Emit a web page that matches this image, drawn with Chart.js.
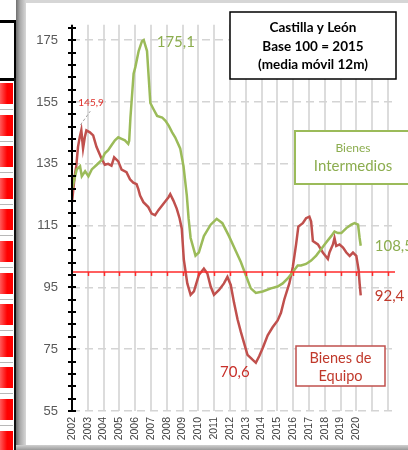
<!DOCTYPE html>
<html>
<head>
<meta charset="utf-8">
<script src="https://cdn.jsdelivr.net/npm/chart.js@4.4.1/dist/chart.umd.min.js"></script>
<style>
  html, body { margin: 0; padding: 0; background: #fff; }
  body { width: 408px; height: 450px; position: relative; overflow: hidden; }
  .abs { position: absolute; }
  #marco { left: 26px; top: 3px; width: 382px; height: 442px; }
</style>
</head>
<body>
<!-- trozo de hoja de cálculo a la izquierda -->
<div class="abs" style="left:-3px;top:20px;width:14px;height:55px;border:3px solid #000;"></div>
<div class="abs" style="left:14px;top:78px;width:2px;height:372px;background:#111;"></div>
<div id="celdas"></div>
<div class="abs" style="left:16px;top:0;width:10px;height:450px;background:linear-gradient(to right,#6f6f6f,#a9a9a9 40%,#d8d8d8);"></div>
<div class="abs" style="left:26px;top:0;width:382px;height:3px;background:#d6d6d6;"></div>
<div class="abs" style="left:16px;top:445px;width:392px;height:5px;background:linear-gradient(#d0d0d0,#9a9a9a);"></div>
<div id="marco" class="abs"><canvas id="grafico" width="382" height="442"></canvas></div>

<script>
// celdas rojas de la hoja (decoración)
var celdas = document.getElementById('celdas');
var html = '';
for (var i = 0; i < 12; i++) {
  var yCelda = 83 + i * 31.6;
  html += '<div class="abs" style="left:0;top:' + yCelda + 'px;width:13px;height:21px;background:linear-gradient(to right,#ff5a5a,#ff0000 55%);"></div>' +
    '<div class="abs" style="left:0;top:' + (yCelda + 26) + 'px;width:13px;height:1px;background:#b8b8b8;"></div>';
}
celdas.innerHTML = html;

// Bienes de Equipo (media móvil 12m, base 2015 = 100)
var equipoFecha = [2002.0, 2002.17, 2002.27, 2002.38, 2002.49, 2002.59, 2002.70, 2002.81, 2002.91, 2003.13,
  2003.34, 2003.55, 2003.86, 2004.08, 2004.29, 2004.50, 2004.67, 2004.93, 2005.14, 2005.45,
  2005.67, 2005.88, 2006.09, 2006.20, 2006.31, 2006.52, 2006.83, 2007.04, 2007.26, 2007.47,
  2007.79, 2008.11, 2008.22, 2008.42, 2008.63, 2008.81, 2008.95, 2009.08, 2009.30, 2009.51,
  2009.72, 2010.03, 2010.35, 2010.57, 2010.78, 2010.99, 2011.31, 2011.62, 2011.84, 2012.05,
  2012.26, 2012.48, 2012.69, 2012.90, 2013.11, 2013.43, 2013.64, 2013.85, 2014.07, 2014.39,
  2014.70, 2015.02, 2015.23, 2015.44, 2015.76, 2015.98, 2016.19, 2016.33, 2016.61, 2016.82,
  2017.03, 2017.14, 2017.25, 2017.57, 2017.88, 2018.20, 2018.30, 2018.52, 2018.62, 2018.73,
  2018.94, 2019.16, 2019.37, 2019.58, 2019.79, 2020.0, 2020.15, 2020.21, 2020.28];
var equipoValor = [122.6, 131, 134.2, 140.5, 143.6, 145.9, 140, 143.6, 145.8, 145.2,
  144.2, 140.5, 136.8, 134.7, 135.0, 134.4, 137.1, 135.8, 133.1, 132.3,
  130.0, 128.9, 128.4, 126.8, 124.7, 122.6, 121.0, 118.9, 118.4, 120.0,
  122.1, 124.2, 125.2, 123.1, 120.5, 117.4, 114, 104, 96.3, 92.6,
  93.7, 99, 101.1, 99.5, 95.3, 92.6, 94.2, 96.3, 98.4, 95.8,
  90, 84.7, 80.6, 76.9, 73.2, 71.6, 70.6, 72.7, 75.3, 79.5,
  82.1, 84.3, 86.8, 91.1, 96.3, 101.6, 109, 114.7, 115.8, 117.4,
  117.9, 116.3, 110, 108.9, 106.3, 104.2, 106.3, 108.9, 111, 108.4,
  108.9, 107.9, 106.3, 105.2, 106.3, 105.2, 100.5, 96.3, 92.4];

// Bienes Intermedios
var intermFecha = [2002.0, 2002.30, 2002.51, 2002.62, 2002.83, 2003.04, 2003.25, 2003.57, 2003.89, 2004.08,
  2004.29, 2004.50, 2004.72, 2004.93, 2005.14, 2005.35, 2005.56, 2005.62, 2005.70, 2005.90,
  2006.01, 2006.22, 2006.43, 2006.54, 2006.75, 2006.96, 2007.17, 2007.39, 2007.71, 2007.92,
  2008.13, 2008.34, 2008.53, 2008.85, 2009.06, 2009.27, 2009.38, 2009.51, 2009.82, 2010.03,
  2010.35, 2010.78, 2011.16, 2011.52, 2011.94, 2012.37, 2012.69, 2013.0, 2013.32, 2013.64,
  2014.07, 2014.6, 2015.02, 2015.34, 2015.66, 2015.98, 2016.29, 2016.5, 2016.82, 2017.14,
  2017.46, 2017.78, 2018.09, 2018.41, 2018.62, 2018.84, 2019.05, 2019.37, 2019.68, 2019.89,
  2020.11, 2020.21, 2020.28];
var intermValor = [126.8, 133.2, 134.2, 131, 132.6, 131, 133.2, 134.7, 136.3, 138.4,
  139.4, 141, 142.6, 143.6, 143.1, 142.6, 141.5, 142.5, 150, 164.2,
  166.3, 171.5, 174.7, 175.1, 171.5, 154.7, 152.6, 150.5, 150, 148.9,
  147.3, 145.2, 143.6, 140, 134.2, 124.7, 117.4, 111, 105.3, 106.3,
  111.6, 115.3, 117.2, 115.8, 111.6, 106.8, 103.2, 99, 94.7, 93.2,
  93.7, 94.7, 95.3, 96.3, 97.9, 100, 102.1, 102.1, 102.6, 103.7,
  105.3, 107.4, 109.5, 111.6, 113.1, 112.6, 112.6, 114.2, 115.3, 115.8,
  115.3, 111, 108.5];

// ejes
var anios = [2002, 2003, 2004, 2005, 2006, 2007, 2008, 2009, 2010, 2011, 2012,
  2013, 2014, 2015, 2016, 2017, 2018, 2019, 2020, 2021, 2022];
var ultimoAnioEtiqueta = 2020;
var xMin = 2002, xMax = 2022.45;
var yMin = 55, yMax = 180, yPaso = 4, yPasoEtiqueta = 20;
var base = 100;

function puntos(f, v) { return f.map(function (d, i) { return { x: d, y: v[i] }; }); }
function coma(v) { return v.toFixed(1).replace('.', ','); }

var verde = '#9bbb59', rojo = '#c0504d';

var decor = {
  id: 'decor',
  afterDraw: function (chart) {
    var ctx = chart.ctx, a = chart.chartArea, x = chart.scales.x, y = chart.scales.y;
    ctx.save();
    // eje vertical con marcas que lo cruzan
    ctx.strokeStyle = '#000';
    ctx.lineWidth = 2;
    ctx.beginPath(); ctx.moveTo(a.left, a.top); ctx.lineTo(a.left, a.bottom); ctx.stroke();
    y.ticks.forEach(function (t) {
      var py = Math.round(y.getPixelForValue(t.value));
      ctx.beginPath(); ctx.moveTo(a.left - 4, py); ctx.lineTo(a.left + 4, py); ctx.stroke();
    });
    // marcas bajo la línea de 100
    var p100 = y.getPixelForValue(base);
    ctx.strokeStyle = '#ff2a2a';
    ctx.lineWidth = 1.5;
    x.ticks.forEach(function (t) {
      if (t.value === xMin) return;
      var px = Math.round(x.getPixelForValue(t.value)) + 0.5;
      ctx.beginPath(); ctx.moveTo(px, p100); ctx.lineTo(px, p100 + 4); ctx.stroke();
    });

    function texto(s, px, py, font, color, align) {
      ctx.font = font; ctx.fillStyle = color; ctx.textAlign = align || 'left'; ctx.textBaseline = 'middle';
      ctx.fillText(s, px, py);
    }

    // máximo de Bienes de Equipo al inicio
    var iMaxE = equipoValor.indexOf(Math.max.apply(null, equipoValor.slice(0, 20)));
    var ex = x.getPixelForValue(equipoFecha[iMaxE]), ey = y.getPixelForValue(equipoValor[iMaxE]);
    ctx.strokeStyle = '#a6a6a6'; ctx.lineWidth = 1; ctx.setLineDash([3, 2]);
    ctx.beginPath(); ctx.moveTo(ex - 1, ey - 5); ctx.lineTo(ex + 9, ey - 19); ctx.stroke();
    ctx.setLineDash([]);
    texto(coma(equipoValor[iMaxE]), ex - 3, ey - 27, '10px Lato', '#e0302a');

    // máximo de Bienes Intermedios
    var iMaxI = intermValor.indexOf(Math.max.apply(null, intermValor));
    texto(coma(intermValor[iMaxI]), x.getPixelForValue(intermFecha[iMaxI]) + 13,
      y.getPixelForValue(intermValor[iMaxI]) + 2, '15px Lato', '#8cad4f');

    // mínimo de Bienes de Equipo
    var iMinE = equipoValor.indexOf(Math.min.apply(null, equipoValor));
    texto(coma(equipoValor[iMinE]), x.getPixelForValue(equipoFecha[iMinE]) - 21,
      y.getPixelForValue(equipoValor[iMinE]) + 9, '15px Lato', '#c8302a', 'center');

    // últimos valores
    var nI = intermValor.length - 1, nE = equipoValor.length - 1;
    texto(coma(intermValor[nI]), x.getPixelForValue(intermFecha[nI]) + 14,
      y.getPixelForValue(intermValor[nI]), '15px Lato', '#8cad4f');
    texto(coma(equipoValor[nE]), x.getPixelForValue(equipoFecha[nE]) + 14,
      y.getPixelForValue(equipoValor[nE]) + 1, '15px Lato', '#c0392b');

    // recuadro del título
    ctx.fillStyle = '#fff'; ctx.fillRect(204, 9, 166, 67);
    ctx.strokeStyle = '#000'; ctx.lineWidth = 1.5; ctx.strokeRect(204, 9, 166, 67);
    texto('Castilla y León', 287, 25, 'bold 13.5px Lato', '#000', 'center');
    texto('Base 100 = 2015', 287, 44, 'bold 13.5px Lato', '#000', 'center');
    texto('(media móvil 12m)', 287, 62, 'bold 13.5px Lato', '#000', 'center');

    // recuadro Bienes Intermedios
    ctx.fillStyle = '#fff'; ctx.fillRect(269, 128, 125, 53);
    ctx.strokeStyle = verde; ctx.lineWidth = 2; ctx.strokeRect(269, 128, 125, 53);
    texto('Bienes', 327, 145, '12px Lato', '#8cad4f', 'center');
    texto('Intermedios', 327, 163.5, '15px Lato', '#8cad4f', 'center');

    // recuadro Bienes de Equipo
    ctx.fillStyle = '#fff'; ctx.fillRect(270, 343, 89, 40);
    ctx.strokeStyle = rojo; ctx.lineWidth = 1.5; ctx.strokeRect(270, 343, 89, 40);
    texto('Bienes de', 314.5, 355, '14.5px Lato', '#c0392b', 'center');
    texto('Equipo', 314.5, 373, '14.5px Lato', '#c0392b', 'center');
    ctx.restore();
  }
};

new Chart(document.getElementById('grafico'), {
  type: 'line',
  data: {
    datasets: [
      {
        label: 'Base 100',
        data: [{ x: xMin, y: base }, { x: xMax, y: base }],
        borderColor: '#ff2a2a',
        borderWidth: 1.5,
        pointRadius: 0
      },
      {
        label: 'Bienes Intermedios',
        data: puntos(intermFecha, intermValor),
        borderColor: verde,
        borderWidth: 2.5,
        pointRadius: 0,
        tension: 0
      },
      {
        label: 'Bienes de Equipo',
        data: puntos(equipoFecha, equipoValor),
        borderColor: rojo,
        borderWidth: 2.5,
        pointRadius: 0,
        tension: 0
      }
    ]
  },
  options: {
    responsive: false,
    animation: false,
    layout: { padding: { top: 12, right: 13, left: 0, bottom: 0 } },
    plugins: { legend: { display: false }, tooltip: { enabled: false } },
    scales: {
      x: {
        type: 'linear',
        min: xMin,
        max: xMax,
        afterBuildTicks: function (s) { s.ticks = anios.map(function (v) { return { value: v }; }); },
        afterFit: function (s) { s.height = 34; },
        ticks: {
          autoSkip: false,
          minRotation: 90,
          maxRotation: 90,
          padding: 6,
          color: '#404040',
          font: { family: '"Liberation Sans", Arial, sans-serif', size: 10.5 },
          callback: function (v) { return v <= ultimoAnioEtiqueta ? String(v) : ''; }
        },
        grid: { color: '#dcdcdc', lineWidth: 2, drawTicks: false },
        border: { display: false }
      },
      y: {
        min: yMin,
        max: yMax,
        afterBuildTicks: function (s) {
          var t = [];
          for (var v = yMin; v < yMax; v += yPaso) t.push({ value: v });
          s.ticks = t;
        },
        afterFit: function (s) { s.width = 46; },
        ticks: {
          autoSkip: false,
          padding: 14,
          color: '#595959',
          font: { family: '"Liberation Sans", Arial, sans-serif', size: 13 },
          callback: function (v) { return (v - yMin) % yPasoEtiqueta === 0 ? String(v) : ''; }
        },
        grid: {
          color: function (c) { return c.tick && (c.tick.value - yMin) % yPasoEtiqueta === 0 ? '#d4d4d4' : 'transparent'; },
          lineWidth: 1.5,
          drawTicks: false
        },
        border: { display: false, dash: [8, 5] }
      }
    }
  },
  plugins: [decor]
});
</script>
</body>
</html>
